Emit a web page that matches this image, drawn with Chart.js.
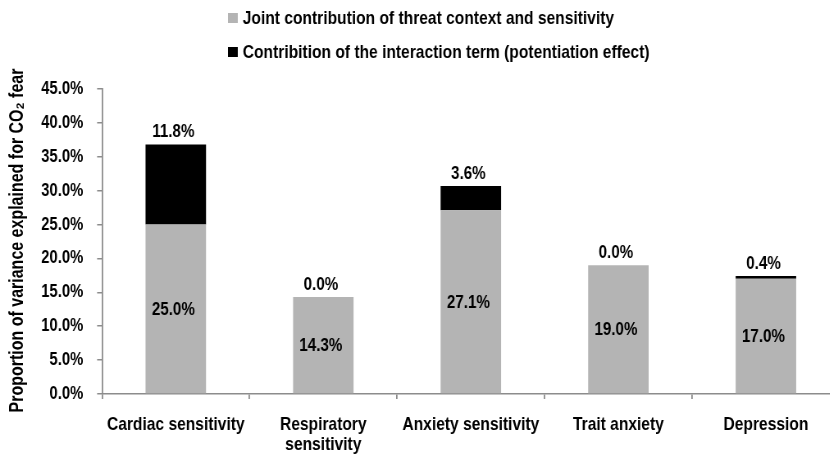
<!DOCTYPE html>
<html>
<head>
<meta charset="utf-8">
<script src="https://cdn.jsdelivr.net/npm/chart.js@4"></script>
<style>
    html, body { margin: 0; padding: 0; background: #fff; overflow: hidden; }
    /* drawn wide, then squeezed so the bold sans reads like a narrow face */
    #wrap { position: relative; width: 1027px; height: 455px; transform: scaleX(0.82); transform-origin: 0 0; }
</style>
</head>
<body>
<div id="wrap"><canvas id="fearChart"></canvas></div>
<script>
// Variance explained for CO2 fear, in percent
const categories = ['Cardiac sensitivity', ['Respiratory', 'sensitivity'], 'Anxiety sensitivity', 'Trait anxiety', 'Depression'];
const jointContribution = [25.0, 14.3, 27.1, 19.0, 17.0];
const interactionContribution = [11.8, 0.0, 3.6, 0.0, 0.4];
const seriesNames = [
    'Joint contribution of threat context and sensitivity',
    'Contribition of the interaction term (potentiation effect)'
];
const yTitle = 'Proportion of variance explained for CO\u2082 fear';
const yTicks = { min: 0, max: 45, step: 5 };

const SQUEEZE = 0.82;
const FONT = "'Liberation Sans', Arial, sans-serif";
const GREY = '#b4b4b4';
const AXIS = '#8c8c8c';

// legend stacked on two rows, drawn by hand
const legendRows = {
    id: 'legendRows',
    afterDraw(chart) {
        const ctx = chart.ctx;
        ctx.save();
        ctx.font = 'bold 19px ' + FONT;
        ctx.textBaseline = 'middle';
        ctx.textAlign = 'left';
        chart.data.datasets.forEach((ds, i) => {
            const cy = 18 + i * 34;
            ctx.fillStyle = ds.backgroundColor;
            ctx.fillRect(278, cy - 5, 12, 10);
            ctx.fillStyle = '#000';
            ctx.fillText(ds.label, 296, cy + 1);
        });
        ctx.restore();
    }
};

// vertical axis title, narrow along its length like the rest of the text
const sideTitle = {
    id: 'sideTitle',
    afterDraw(chart) {
        const ctx = chart.ctx;
        const area = chart.chartArea;
        ctx.save();
        ctx.translate(21, (area.top + area.bottom) / 2 - 1);
        ctx.rotate(-Math.PI / 2);
        ctx.scale(SQUEEZE, 1 / SQUEEZE);
        ctx.font = 'bold 19.5px ' + FONT;
        ctx.fillStyle = '#000';
        ctx.textAlign = 'center';
        ctx.textBaseline = 'middle';
        ctx.fillText(yTitle, 0, 0);
        ctx.restore();
    }
};

// value labels: grey part centred in its segment, interaction above the stack
const valueLabels = {
    id: 'valueLabels',
    afterDatasetsDraw(chart) {
        const ctx = chart.ctx;
        ctx.save();
        ctx.font = 'bold 18.5px ' + FONT;
        ctx.fillStyle = '#000';
        ctx.textAlign = 'center';
        chart.data.datasets.forEach((ds, di) => {
            const meta = chart.getDatasetMeta(di);
            meta.data.forEach((bar, i) => {
                const txt = ds.data[i].toFixed(1) + '%';
                if (di === 0) {
                    ctx.textBaseline = 'middle';
                    ctx.fillText(txt, bar.x - 3, (bar.y + bar.base) / 2 + 1);
                } else {
                    ctx.textBaseline = 'bottom';
                    ctx.fillText(txt, bar.x - 3, Math.min(bar.y, bar.base) - 3);
                }
            });
        });
        ctx.restore();
    }
};

const ctx = document.getElementById('fearChart').getContext('2d');

const fearChart = new Chart(ctx, {
    type: 'bar',
    data: {
        labels: categories,
        datasets: [
            {
                label: seriesNames[0],
                data: jointContribution,
                backgroundColor: GREY,
                categoryPercentage: 1.0,
                barPercentage: 0.41
            },
            {
                label: seriesNames[1],
                data: interactionContribution,
                backgroundColor: '#000000',
                categoryPercentage: 1.0,
                barPercentage: 0.41
            }
        ]
    },
    options: {
        responsive: true,
        maintainAspectRatio: false,
        animation: false,
        layout: { padding: { top: 89, left: 0, right: 3, bottom: 0 } },
        plugins: {
            legend: { display: false },
            tooltip: { enabled: false }
        },
        scales: {
            x: {
                stacked: true,
                afterFit(scale) { scale.height = 61; },
                grid: { drawOnChartArea: false, drawTicks: true, tickLength: 5, color: AXIS, lineWidth: 1.8 },
                border: { color: AXIS, width: 1.5 },
                ticks: {
                    color: '#000',
                    padding: 16,
                    maxRotation: 0,
                    autoSkip: false,
                    font: { family: FONT, size: 19, weight: 'bold', lineHeight: 1.05 }
                }
            },
            y: {
                stacked: true,
                min: yTicks.min,
                max: yTicks.max,
                afterFit(scale) { scale.width = 124.4; },
                grid: { drawOnChartArea: false, drawTicks: true, tickLength: 6, color: AXIS, lineWidth: 1.5 },
                border: { color: AXIS, width: 1.8 },
                ticks: {
                    stepSize: yTicks.step,
                    color: '#000',
                    padding: 17,
                    font: { family: FONT, size: 18, weight: 'bold' },
                    callback: v => v.toFixed(1) + '%'
                }
            }
        }
    },
    plugins: [legendRows, sideTitle, valueLabels]
});
</script>
</body>
</html>
